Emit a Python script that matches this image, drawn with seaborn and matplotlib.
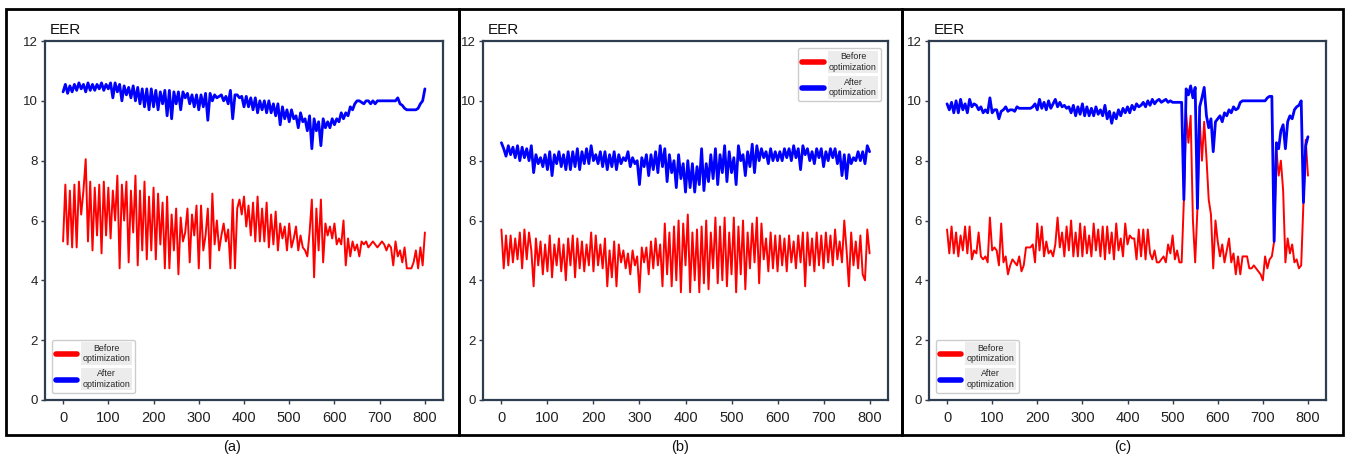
import numpy as np
import pandas as pd
import matplotlib
matplotlib.use("Agg")
import matplotlib.pyplot as plt
from matplotlib.patches import Rectangle
from matplotlib.lines import Line2D
import seaborn as sns

# ---------------- data (x step of 5, 0..800) ----------------
x_vals = list(range(0, 805, 5))

a_before = [5.3, 7.2, 5.2, 7.0, 5.1, 7.2, 5.1, 7.3, 6.2, 7.0,
            8.05, 5.3, 7.3, 5.0, 7.1, 5.5, 7.2, 4.9, 7.3, 5.5,
            7.1, 5.4, 7.0, 6.0, 7.5, 4.4, 7.2, 6.0, 7.3, 4.6,
            7.0, 5.6, 7.5, 4.5, 7.0, 5.0, 7.3, 4.7, 6.8, 5.0,
            7.1, 4.7, 6.9, 5.2, 6.6, 4.4, 6.8, 4.4, 6.2, 5.0,
            6.4, 4.2, 6.1, 5.3, 5.6, 6.4, 4.6, 6.2, 5.5, 6.5,
            4.4, 6.5, 5.0, 5.5, 6.4, 4.4, 6.9, 5.2, 6.0, 5.0,
            5.5, 5.9, 5.3, 5.7, 4.4, 6.7, 4.4, 6.4, 6.7, 6.2,
            6.8, 5.8, 6.5, 5.5, 6.6, 5.3, 6.8, 5.3, 6.4, 5.3,
            6.6, 5.1, 6.2, 5.2, 6.3, 5.0, 5.9, 5.4, 5.8, 5.0,
            5.9, 5.1, 5.4, 5.8, 5.0, 5.5, 5.1, 5.0, 4.8, 5.6,
            6.7, 4.1, 6.4, 5.0, 6.7, 4.6, 5.9, 5.5, 5.8, 5.4,
            5.9, 5.2, 5.4, 5.2, 6.0, 4.5, 5.4, 4.8, 5.3, 5.0,
            5.2, 4.8, 5.3, 5.2, 5.3, 5.1, 5.2, 5.3, 5.2, 5.1,
            5.2, 5.3, 5.2, 5.0, 5.2, 5.1, 4.5, 5.3, 4.8, 5.0,
            4.6, 5.1, 4.4, 4.4, 4.4, 4.6, 5.0, 4.4, 5.1, 4.5,
            5.6]
a_after = [10.3, 10.55, 10.25, 10.5, 10.3, 10.55, 10.35, 10.6, 10.4, 10.55,
           10.3, 10.6, 10.35, 10.55, 10.35, 10.55, 10.4, 10.6, 10.35, 10.55,
           10.4, 10.6, 10.1, 10.6, 10.3, 10.55, 10.0, 10.5, 10.2, 10.45,
           10.1, 10.5, 10.0, 10.45, 9.9, 10.4, 9.8, 10.4, 9.7, 10.4,
           9.8, 10.35, 9.7, 10.3, 9.9, 10.35, 9.5, 10.35, 9.4, 10.3,
           9.9, 10.3, 9.7, 10.3, 10.1, 10.25, 9.9, 10.2, 9.8, 10.2,
           9.7, 10.2, 9.8, 10.25, 9.35, 10.25, 10.0, 10.2, 10.1, 10.15,
           10.2, 10.0, 10.15, 9.9, 10.35, 9.4, 10.2, 10.2, 10.1, 10.15,
           9.8, 10.15, 9.8, 10.1, 9.7, 10.1, 9.6, 10.0, 9.7, 10.0,
           9.6, 10.0, 9.6, 9.9, 9.5, 9.9, 9.2, 9.8, 9.4, 9.7,
           9.3, 9.7, 9.4, 9.5, 9.1, 9.6, 9.3, 9.4, 9.0, 9.5,
           8.4, 9.4, 9.0, 9.3, 8.5, 9.4, 9.1, 9.3, 9.1, 9.4,
           9.2, 9.4, 9.3, 9.6, 9.4, 9.6, 9.5, 9.8, 9.7, 9.9,
           10.0, 10.0, 9.95, 9.9, 10.0, 10.0, 9.9, 10.0, 9.9, 10.0,
           10.0, 10.0, 10.0, 10.0, 10.0, 10.0, 10.0, 10.0, 10.1, 9.9,
           9.85, 9.75, 9.7, 9.7, 9.7, 9.7, 9.7, 9.75, 9.9, 10.0,
           10.4]

b_before = [5.7, 4.4, 5.5, 4.5, 5.5, 4.6, 5.4, 4.7, 5.6, 4.4,
            5.7, 4.7, 5.6, 5.0, 3.8, 5.4, 4.5, 5.3, 4.2, 5.2,
            4.3, 5.5, 4.1, 5.2, 4.5, 5.4, 4.3, 5.2, 4.0, 5.4,
            4.5, 5.5, 4.1, 5.4, 4.4, 5.3, 4.3, 5.2, 4.5, 5.6,
            4.3, 5.5, 4.5, 5.2, 4.4, 5.4, 3.8, 5.0, 4.1, 5.3,
            3.8, 5.2, 4.6, 5.0, 4.4, 4.9, 4.2, 5.0, 4.5, 4.8,
            3.6, 5.1, 4.6, 5.1, 4.2, 5.3, 4.4, 5.4, 4.5, 5.2,
            3.8, 5.9, 4.2, 5.6, 3.8, 5.8, 4.0, 6.0, 3.6, 5.9,
            4.5, 6.2, 3.6, 5.6, 4.0, 5.7, 3.6, 5.8, 3.9, 6.0,
            3.7, 5.6, 4.4, 6.1, 3.9, 5.8, 4.0, 6.1, 3.8, 5.6,
            4.2, 6.1, 3.6, 5.8, 4.2, 6.0, 3.7, 5.6, 4.4, 5.9,
            4.6, 6.1, 3.9, 5.9, 4.7, 5.4, 4.3, 5.6, 4.4, 5.5,
            4.3, 5.5, 4.5, 5.4, 4.3, 5.5, 4.6, 5.3, 4.4, 5.5,
            4.6, 5.6, 3.8, 5.6, 4.5, 5.4, 4.3, 5.6, 4.5, 5.5,
            4.4, 5.6, 4.6, 5.5, 4.5, 5.7, 4.7, 5.3, 4.6, 6.0,
            5.0, 3.8, 5.6, 4.5, 5.3, 4.4, 5.5, 4.2, 4.0, 5.7,
            4.9]
b_after = [8.6, 8.4, 8.15, 8.5, 8.2, 8.45, 8.1, 8.5, 8.0, 8.45,
           8.1, 8.4, 8.0, 8.5, 7.6, 8.2, 7.9, 8.1, 7.8, 8.2,
           7.7, 8.3, 7.5, 8.2, 7.9, 8.3, 7.8, 8.2, 7.7, 8.3,
           7.7, 8.3, 7.8, 8.4, 7.7, 8.3, 7.9, 8.4, 7.9, 8.5,
           8.0, 8.2, 7.9, 8.3, 7.8, 8.3, 7.7, 8.2, 7.8, 8.3,
           7.7, 8.2, 7.9, 8.1, 8.0, 8.3, 7.8, 8.1, 7.9, 8.0,
           7.2, 8.1, 7.8, 8.2, 7.5, 8.2, 7.7, 8.3, 7.6, 8.5,
           7.8, 8.4, 7.3, 8.2, 7.6, 8.0, 7.1, 8.2, 7.4, 7.9,
           6.95, 8.0, 7.1, 7.9, 6.95, 7.8, 7.2, 8.4, 7.0, 7.9,
           7.3, 8.2, 7.4, 8.4, 7.2, 8.2, 7.6, 8.5, 7.3, 8.3,
           7.6, 8.1, 7.2, 8.5, 8.0, 8.2, 7.5, 8.3, 7.8, 8.55,
           7.6, 8.5, 8.0, 8.4, 8.1, 8.3, 7.9, 8.4, 8.0, 8.3,
           8.0, 8.3, 8.0, 8.4, 8.1, 8.4, 8.0, 8.5, 8.1, 8.4,
           7.7, 8.5, 8.2, 8.4, 8.0, 8.3, 7.9, 8.4, 8.1, 8.4,
           7.8, 8.3, 8.0, 8.4, 8.1, 8.4, 7.9, 8.3, 7.5, 8.2,
           7.4, 8.2, 7.9, 8.1, 8.0, 8.3, 8.0, 8.3, 7.9, 8.5,
           8.3]

c_before = [5.7, 4.9, 5.8, 4.9, 5.6, 4.8, 5.5, 5.0, 5.8, 4.9,
            5.8, 4.7, 5.0, 4.9, 5.6, 4.8, 4.7, 4.8, 4.6, 6.1,
            5.0, 5.1, 5.0, 4.5, 5.9, 4.6, 4.8, 4.2, 4.5, 4.7,
            4.6, 4.5, 4.8, 4.3, 4.5, 5.1, 5.1, 5.1, 5.2, 4.6,
            5.9, 5.0, 5.8, 4.8, 5.3, 4.9, 5.0, 4.8, 5.2, 6.1,
            5.1, 5.6, 4.8, 5.8, 5.0, 6.0, 4.8, 5.6, 4.8, 5.9,
            4.8, 5.8, 4.9, 5.5, 4.8, 5.9, 5.0, 5.7, 4.8, 5.8,
            4.7, 5.8, 4.9, 5.6, 4.7, 5.9, 5.0, 5.4, 4.8, 5.9,
            5.2, 5.5, 5.4, 5.4, 4.7, 5.7, 4.8, 5.7, 4.7, 5.7,
            4.9, 4.7, 5.0, 4.6, 4.6, 4.7, 4.8, 4.6, 5.2, 4.9,
            5.5, 4.7, 5.0, 4.6, 4.6, 6.7, 9.6, 8.6, 9.5, 6.0,
            4.6, 6.4, 9.4, 8.0, 9.3, 8.1, 6.7, 6.2, 4.4, 6.0,
            5.3, 4.8, 5.2, 4.6, 5.0, 5.4, 4.6, 4.9, 4.2, 4.8,
            4.2, 4.8, 4.8, 4.8, 4.4, 4.4, 4.5, 4.4, 4.3, 4.2,
            4.0, 4.8, 4.4, 4.7, 4.8, 5.3, 8.4, 7.5, 8.0, 7.0,
            4.6, 5.4, 4.9, 5.2, 4.6, 4.7, 4.4, 4.5, 6.6, 8.7,
            7.5]
c_after = [9.9, 9.7, 9.95, 9.6, 10.0, 9.6, 10.05, 9.7, 9.9, 9.6,
           10.05, 9.8, 9.9, 9.85, 9.7, 9.8, 9.6, 9.7, 9.6, 10.1,
           9.6, 9.7, 9.7, 9.4, 9.65, 9.7, 9.8, 9.65, 9.7, 9.7,
           9.65, 9.8, 9.75, 9.75, 9.75, 9.75, 9.75, 9.75, 9.8, 9.9,
           9.7, 10.05, 9.75, 9.95, 9.7, 10.0, 9.75, 9.9, 10.05, 9.8,
           9.95, 9.8, 9.85, 9.75, 9.8, 9.6, 9.85, 9.5, 9.8, 9.55,
           9.9, 9.5, 9.8, 9.5, 9.75, 9.5, 9.8, 9.55, 9.7, 9.5,
           9.85, 9.4, 9.65, 9.25, 9.6, 9.4, 9.7, 9.5, 9.75, 9.6,
           9.8, 9.6, 9.85, 9.7, 9.9, 9.8, 9.85, 9.95, 9.8, 10.0,
           9.85, 10.05, 9.9, 10.0, 10.05, 9.95, 10.0, 10.05, 9.95, 10.0,
           9.95, 9.95, 9.95, 9.95, 9.95, 6.7, 10.4, 10.2, 10.5, 10.1,
           10.45, 6.4, 9.8, 10.1, 10.45, 9.5, 9.1, 9.4, 8.3, 9.3,
           9.4, 9.5, 9.3, 9.6, 9.5, 9.7, 9.6, 9.8, 9.7, 9.75,
           9.95, 10.0, 10.0, 10.0, 10.0, 10.0, 10.0, 10.0, 10.0, 10.0,
           10.0, 10.0, 10.1, 10.15, 10.15, 5.3, 8.6, 8.4, 9.0, 9.2,
           8.4, 9.3, 9.5, 9.4, 9.7, 9.8, 9.85, 10.0, 6.6, 8.5,
           8.8]

panel_labels = ["(a)", "(b)", "(c)"]
legend_labels = ["Before\noptimization", "After\noptimization"]
y_label = "EER"
y_ticks = [0, 2, 4, 6, 8, 10, 12]
x_ticks = [0, 100, 200, 300, 400, 500, 600, 700, 800]

# ---------------- style ----------------
sns.set_theme(style="white")
plt.rcParams['font.family'] = ['Liberation Sans', 'DejaVu Sans']

W, H = 1348, 457
fig = plt.figure(figsize=(W / 100, H / 100), dpi=100)

spine_col = "#2e3d50"
panels = [
    (a_before, a_after, (45, 443), "lower left"),
    (b_before, b_after, (483, 888), "upper right"),
    (c_before, c_after, (929, 1326), "lower left"),
]
frames = [(6, 459), (459, 902), (902, 1343)]
y_top, y_bot = 41, 400

for i, (before, after, (xl, xr), legloc) in enumerate(panels):
    ax = fig.add_axes([xl / W, 1 - y_bot / H, (xr - xl) / W, (y_bot - y_top) / H])
    df = pd.DataFrame({"x": x_vals, "before": before, "after": after})
    sns.lineplot(data=df, x="x", y="before", ax=ax, color="#ff0000", lw=1.4)
    sns.lineplot(data=df, x="x", y="after", ax=ax, color="#0000ff", lw=2.0)
    ax.set_ylim(0, 12)
    ax.set_xlim(-40, 840)
    ax.set_yticks(y_ticks)
    ax.set_xticks(x_ticks)
    ax.set_xlabel("")
    ax.set_ylabel("")
    for s in ax.spines.values():
        s.set_color(spine_col)
        s.set_linewidth(1.6)
    ax.tick_params(axis="both", direction="out", length=3, width=1, color=spine_col,
                   labelcolor="#222222", bottom=True, left=True)
    ax.tick_params(axis="y", labelsize=9.5, pad=2)
    ax.tick_params(axis="x", labelsize=10.5, pad=5)
    ax.text(0.012, 1.01, y_label, transform=ax.transAxes, fontsize=11,
            ha="left", va="bottom", color="#111111")
    handles = [Line2D([], [], color="#ff0000", lw=4),
               Line2D([], [], color="#0000ff", lw=4)]
    leg = ax.legend(handles, legend_labels, loc=legloc, fontsize=6.4,
                    handlelength=2.4, borderaxespad=0.8, frameon=True,
                    fancybox=True, edgecolor="#cccccc", framealpha=1,
                    labelspacing=0.7, handletextpad=0.6, borderpad=0.45)
    for t in leg.get_texts():
        t.set_multialignment("center")
        t.set_bbox(dict(facecolor="#ececec", edgecolor="none", pad=1))

    fl, fr = frames[i]
    fig.patches.append(Rectangle((fl / W, 1 - 435 / H), (fr - fl) / W, (435 - 9) / H,
                                 transform=fig.transFigure, fill=False,
                                 edgecolor="black", lw=2.0))
    fig.text(((fl + fr) / 2) / W, 1 - 447 / H, panel_labels[i], ha="center",
             va="center", fontsize=10.5, color="#111111")

fig.savefig("out.png", dpi=100)
